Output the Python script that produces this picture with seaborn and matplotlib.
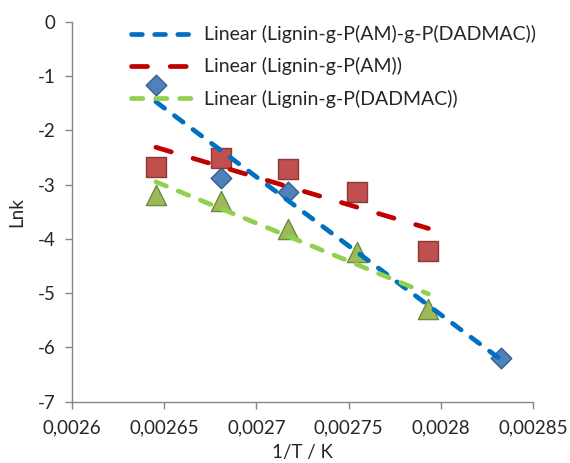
import numpy as np
import pandas as pd
import seaborn as sns
from matplotlib import pyplot as plt

# temperatures (K) -> 1/T
T_blue = [378, 373, 368, 353]
T_red = [378, 373, 368, 363, 358]
T_green = [378, 373, 368, 363, 358]

lnk_blue = [-1.17, -2.88, -3.13, -6.20]
lnk_red = [-2.68, -2.51, -2.71, -3.13, -4.22]
lnk_green = [-3.19, -3.30, -3.82, -4.24, -5.29]

names = ['Linear (Lignin-g-P(AM)-g-P(DADMAC))',
         'Linear (Lignin-g-P(AM))',
         'Linear (Lignin-g-P(DADMAC))']

xticks = [0.0026, 0.00265, 0.0027, 0.00275, 0.0028, 0.00285]
xticklabels = ['0,0026', '0,00265', '0,0027', '0,00275', '0,0028', '0,00285']
yticks = [0, -1, -2, -3, -4, -5, -6, -7]

blue = pd.DataFrame({'x': 1 / np.array(T_blue), 'y': lnk_blue})
red = pd.DataFrame({'x': 1 / np.array(T_red), 'y': lnk_red})
green = pd.DataFrame({'x': 1 / np.array(T_green), 'y': lnk_green})

sns.set_style('white')
plt.rcParams['font.family'] = ['Lato', 'DejaVu Sans']
plt.rcParams['axes.unicode_minus'] = False

fig = plt.figure(figsize=(5.7, 4.63), dpi=100)
ax = fig.add_axes([0.1263, 0.1324, 0.8087, 0.8206])

# markers
sns.scatterplot(data=blue, x='x', y='y', marker='D', s=110, color='#4F81BD',
                edgecolor='#385D8A', linewidth=1, ax=ax, zorder=2)
sns.scatterplot(data=red, x='x', y='y', marker='s', s=190, color='#C0504D',
                edgecolor='#8C3836', linewidth=1, ax=ax, zorder=2)
sns.scatterplot(data=green, x='x', y='y', marker='^', s=210, color='#9BBB59',
                edgecolor='#71893F', linewidth=1, ax=ax, zorder=2)

# linear trendlines
styles = [(blue, '#0070C0', (2.3, 2.6)),
          (red, '#C00000', (3.4, 4.8)),
          (green, '#92D050', (2.4, 2.7))]
handles = []
for df, col, dash in styles:
    sns.regplot(data=df, x='x', y='y', scatter=False, ci=None, truncate=True,
                ax=ax, line_kws=dict(color=col, lw=3.4, dashes=dash,
                                     dash_capstyle='round', zorder=3))
    handles.append(ax.lines[-1])

ax.set_xlim(0.0026, 0.00285)
ax.set_ylim(-7, 0)
ax.set_xticks(xticks)
ax.set_xticklabels(xticklabels)
ax.set_yticks(yticks)
ax.tick_params(axis='both', labelsize=13.5, length=5, direction='out',
               width=1, color='#868686', labelcolor='#262626',
               bottom=True, left=True)
ax.tick_params(axis='x', pad=8)
ax.tick_params(axis='y', pad=7)
for s in ['top', 'right']:
    ax.spines[s].set_visible(False)
for s in ['left', 'bottom']:
    ax.spines[s].set_color('#868686')
    ax.spines[s].set_linewidth(1)

ax.set_xlabel('1/T / K', fontsize=13.5, color='#262626', labelpad=5)
ax.set_ylabel('Lnk', fontsize=13.5, color='#262626', labelpad=9)

ax.legend(handles, names, loc='upper left', bbox_to_anchor=(0.216, 0.962),
          bbox_transform=fig.transFigure, frameon=False, fontsize=14,
          handlelength=3.3, handletextpad=0.45, labelspacing=0.72,
          borderaxespad=0, labelcolor='#262626')

fig.savefig('out.png', dpi=100)
